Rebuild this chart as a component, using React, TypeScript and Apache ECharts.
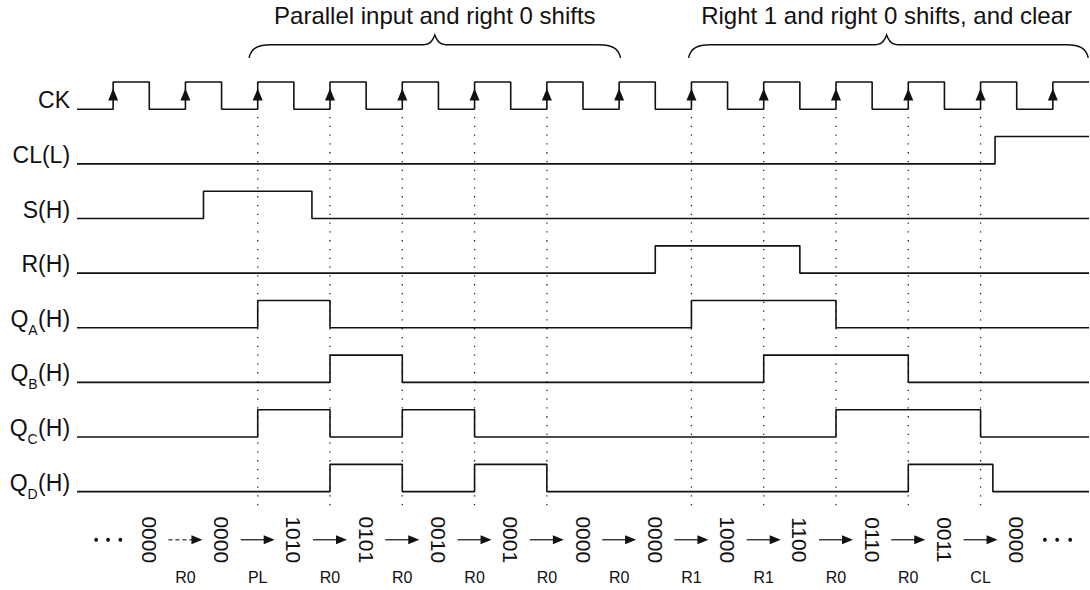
import React, { useEffect, useRef } from 'react';
import * as echarts from 'echarts';

// ---- data ----
const labelMain = ['CK', 'CL(L)', 'S(H)', 'R(H)', 'Q', 'Q', 'Q', 'Q'];
const labelSub = ['', '', '', '', 'A', 'B', 'C', 'D'];
const labelTail = ['', '', '', '', '(H)', '(H)', '(H)', '(H)'];

// transition times (in clock periods, t=0 at first rising edge); every signal starts low
const ckEdges = [0, 0.5, 1, 1.5, 2, 2.5, 3, 3.5, 4, 4.5, 5, 5.5, 6, 6.5, 7, 7.5, 8, 8.5, 9, 9.5, 10, 10.5, 11, 11.5, 12, 12.5, 13];
const clEdges = [12.2];
const sEdges = [1.25, 2.75];
const rEdges = [7.5, 9.5];
const qaEdges = [2, 3, 8, 10];
const qbEdges = [3, 4, 9, 11];
const qcEdges = [2, 3, 4, 5, 10, 12];
const qdEdges = [3, 4, 5, 6, 11, 12.17];
const allEdges = [ckEdges, clEdges, sEdges, rEdges, qaEdges, qbEdges, qcEdges, qdEdges];

const ckRising = [0, 1, 2, 3, 4, 5, 6, 7, 8, 9, 10, 11, 12, 13];
const sampleEdges = [2, 3, 4, 5, 6, 8, 9, 10, 11, 12];

const states = ['0000', '0000', '1010', '0101', '0010', '0001', '0000', '0000', '1000', '1100', '0110', '0011', '0000'];
const statePos = [0.5, 1.5, 2.5, 3.5, 4.5, 5.5, 6.5, 7.5, 8.5, 9.5, 10.5, 11.5, 12.5];
const ops = ['R0', 'PL', 'R0', 'R0', 'R0', 'R0', 'R0', 'R1', 'R1', 'R0', 'R0', 'CL'];
const opPos = [1, 2, 3, 4, 5, 6, 7, 8, 9, 10, 11, 12];
const ellipsisPos = [-0.235, -0.07, 0.1, 12.89, 13.06, 13.24];

const braceTitles = ['Parallel input and right 0 shifts', 'Right 1 and right 0 shifts, and clear'];
const braceStart = [1.88, 7.96];
const bracePeak = [4.45, 10.7];
const braceEnd = [7.02, 13.49];

// ---- layout constants (axis units) ----
const X_MIN = -0.5;
const X_MAX = 13.5;
const Y_MIN = -8.8;
const Y_MAX = 2;
const HIGH = 0.5;
const FONT = '"Liberation Sans", Arial, Helvetica, sans-serif';
const INK = '#111';

function buildLine(edges: number[], row: number) {
  const base = -row;
  let lvl = 0;
  const pts: number[][] = [[X_MIN, base]];
  edges.forEach((e) => {
    pts.push([e, base + lvl * HIGH]);
    lvl = 1 - lvl;
    pts.push([e, base + lvl * HIGH]);
  });
  pts.push([X_MAX, base + lvl * HIGH]);
  return pts;
}

let measureCtx: CanvasRenderingContext2D | null = null;
function textW(s: string, size: number) {
  if (!measureCtx) measureCtx = document.createElement('canvas').getContext('2d');
  if (!measureCtx) return s.length * size * 0.6;
  measureCtx.font = `${size}px ${FONT}`;
  return measureCtx.measureText(s).width;
}

export default function App() {
  const ref = useRef<HTMLDivElement>(null);
  useEffect(() => {
    if (!ref.current) return;
    const chart = echarts.init(ref.current, null, { renderer: 'svg' });

    const lineSeries = allEdges.map((edges, i) => ({
      type: 'line',
      name: labelMain[i] + labelSub[i] + labelTail[i],
      data: buildLine(edges, i),
      symbol: 'none',
      silent: true,
      lineStyle: { color: INK, width: 1.6 },
      z: 3,
    }));

    const MAIN_SIZE = 23;
    const SUB_SIZE = 14;
    const labelSeries = {
      type: 'custom',
      silent: true,
      clip: false,
      data: labelMain.map((_, i) => [-0.596, -i]),
      renderItem: (params: any, api: any) => {
        const i = params.dataIndex;
        const p = api.coord([api.value(0), api.value(1)]);
        const yMain = p[1] - 9;
        const children: any[] = [];
        const tailW = labelTail[i] ? textW(labelTail[i], MAIN_SIZE) : 0;
        const subW = labelSub[i] ? textW(labelSub[i], SUB_SIZE) : 0;
        let x = p[0];
        if (labelTail[i]) {
          children.push({ type: 'text', x, y: yMain, style: { text: labelTail[i], fontSize: MAIN_SIZE, fontFamily: FONT, fill: INK, align: 'right', verticalAlign: 'middle' } });
          x -= tailW + 0.5;
        }
        if (labelSub[i]) {
          children.push({ type: 'text', x, y: yMain + 11, style: { text: labelSub[i], fontSize: SUB_SIZE, fontFamily: FONT, fill: INK, align: 'right', verticalAlign: 'middle' } });
          x -= subW;
        }
        children.push({ type: 'text', x, y: yMain, style: { text: labelMain[i], fontSize: MAIN_SIZE, fontFamily: FONT, fill: INK, align: 'right', verticalAlign: 'middle' } });
        return { type: 'group', children };
      },
    };

    const clockArrows = {
      type: 'custom',
      silent: true,
      clip: false,
      data: ckRising.map((t) => [t, 0.27]),
      renderItem: (params: any, api: any) => {
        const p = api.coord([api.value(0), api.value(1)]);
        return {
          type: 'polygon',
          shape: { points: [[p[0], p[1] - 6], [p[0] - 5, p[1] + 6], [p[0] + 5, p[1] + 6]] },
          style: { fill: INK },
        };
      },
      z: 4,
    };

    const dottedLines = {
      type: 'custom',
      silent: true,
      clip: false,
      data: sampleEdges.map((t) => [t, -0.14, -7.25]),
      renderItem: (params: any, api: any) => {
        const a = api.coord([api.value(0), api.value(1)]);
        const b = api.coord([api.value(0), api.value(2)]);
        return {
          type: 'line',
          shape: { x1: a[0], y1: a[1], x2: b[0], y2: b[1] },
          style: { stroke: '#222', lineWidth: 1.3, lineDash: [1.3, 7.5] },
        };
      },
      z: 2,
    };

    const stateY = -7.88;
    const stateSeries = {
      type: 'custom',
      silent: true,
      clip: false,
      data: statePos.map((t) => [t, stateY]),
      renderItem: (params: any, api: any) => {
        const p = api.coord([api.value(0), api.value(1)]);
        return {
          type: 'text',
          x: p[0],
          y: p[1],
          rotation: -Math.PI / 2,
          style: { text: states[params.dataIndex], fontSize: 21, fontFamily: FONT, fill: INK, align: 'center', verticalAlign: 'middle' },
        };
      },
    };

    const arrowSeries = {
      type: 'custom',
      silent: true,
      clip: false,
      data: opPos.map((t) => [t, stateY]),
      renderItem: (params: any, api: any) => {
        const a = api.coord([api.value(0) - 0.235, api.value(1)]);
        const b = api.coord([api.value(0) + 0.235, api.value(1)]);
        const dashed = params.dataIndex === 0;
        return {
          type: 'group',
          children: [
            {
              type: 'line',
              shape: { x1: a[0], y1: a[1], x2: b[0] - 8, y2: b[1] },
              style: { stroke: dashed ? '#555' : '#333', lineWidth: 1.4, lineDash: dashed ? [4, 3] : null },
            },
            {
              type: 'polygon',
              shape: { points: [[b[0], b[1]], [b[0] - 11, b[1] - 4.5], [b[0] - 11, b[1] + 4.5]] },
              style: { fill: INK },
            },
          ],
        };
      },
    };

    const opSeries = {
      type: 'custom',
      silent: true,
      clip: false,
      data: opPos.map((t) => [t, -8.58]),
      renderItem: (params: any, api: any) => {
        const p = api.coord([api.value(0), api.value(1)]);
        return {
          type: 'text',
          x: p[0],
          y: p[1],
          style: { text: ops[params.dataIndex], fontSize: 16, fontFamily: FONT, fill: INK, align: 'center', verticalAlign: 'middle' },
        };
      },
    };

    const ellipsisSeries = {
      type: 'custom',
      silent: true,
      clip: false,
      data: ellipsisPos.map((t) => [t, stateY]),
      renderItem: (params: any, api: any) => {
        const p = api.coord([api.value(0), api.value(1)]);
        return { type: 'circle', shape: { cx: p[0], cy: p[1], r: 1.9 }, style: { fill: INK } };
      },
    };

    const braceSeries = {
      type: 'custom',
      silent: true,
      clip: false,
      data: braceStart.map((s, i) => [s, bracePeak[i], braceEnd[i]]),
      renderItem: (params: any, api: any) => {
        const xL = api.coord([api.value(0), 0])[0];
        const xP = api.coord([api.value(1), 0])[0];
        const xR = api.coord([api.value(2), 0])[0];
        const yE = api.coord([0, 0.94])[1];
        const yF = api.coord([0, 1.18])[1];
        const yP = api.coord([0, 1.36])[1];
        const yT = api.coord([0, 1.71])[1];
        const d =
          `M${xL},${yE} C${xL + 2},${yE - 9} ${xL + 8},${yF} ${xL + 22},${yF} ` +
          `L${xP - 14},${yF} C${xP - 6},${yF} ${xP - 3},${yF - 2} ${xP},${yP} ` +
          `C${xP + 3},${yF - 2} ${xP + 6},${yF} ${xP + 14},${yF} ` +
          `L${xR - 22},${yF} C${xR - 8},${yF} ${xR - 2},${yE - 9} ${xR},${yE}`;
        return {
          type: 'group',
          children: [
            { type: 'path', shape: { pathData: d }, style: { stroke: INK, lineWidth: 1.5, fill: null } },
            {
              type: 'text',
              x: xP,
              y: yT,
              style: { text: braceTitles[params.dataIndex], fontSize: 24, fontFamily: FONT, fill: INK, align: 'center', verticalAlign: 'middle' },
            },
          ],
        };
      },
    };

    chart.setOption({
      animation: false,
      backgroundColor: '#ffffff',
      grid: { left: 77, right: 1, top: 0, bottom: 0 },
      xAxis: { type: 'value', min: X_MIN, max: X_MAX, show: false },
      yAxis: { type: 'value', min: Y_MIN, max: Y_MAX, show: false },
      series: [
        ...lineSeries,
        labelSeries,
        clockArrows,
        dottedLines,
        stateSeries,
        arrowSeries,
        opSeries,
        ellipsisSeries,
        braceSeries,
      ],
    });

    return () => chart.dispose();
  }, []);

  return (
    <div
      ref={ref}
      style={{ position: 'fixed', left: 0, top: 0, width: 1090, height: 590, background: '#fff' }}
    />
  );
}
